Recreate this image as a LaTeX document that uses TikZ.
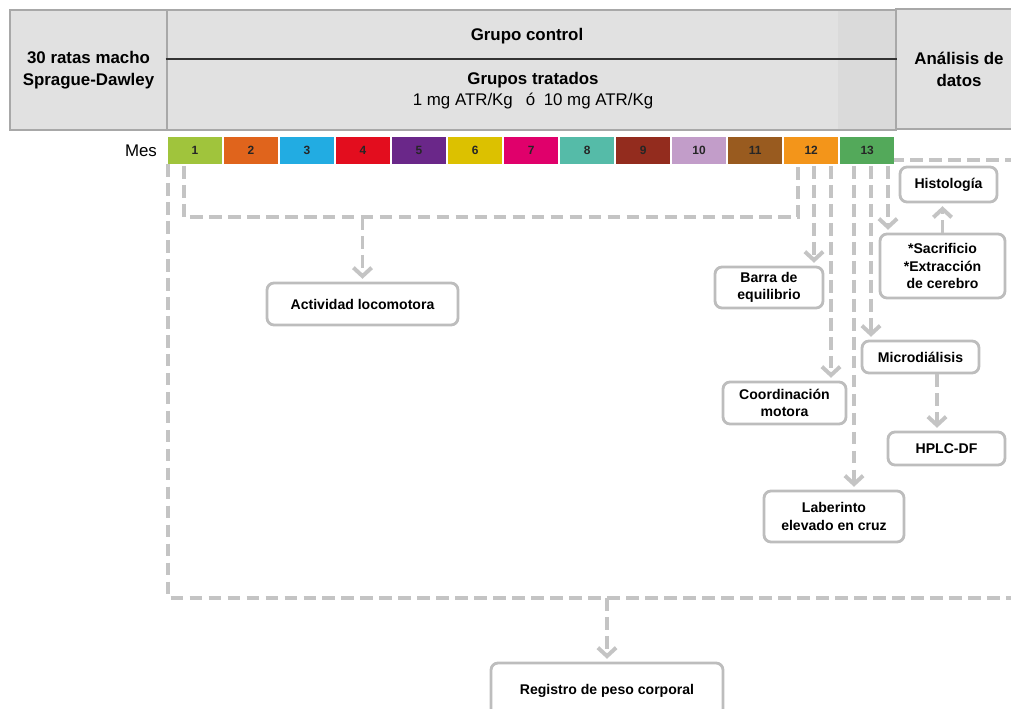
\documentclass[tikz,border=0pt]{standalone}
\usepackage{fontspec}
\setmainfont{Liberation Sans}
\usetikzlibrary{arrows.meta,positioning}

\definecolor{headgray}{HTML}{E1E1E1}
\definecolor{stripgray}{HTML}{DADADA}
\definecolor{framegray}{HTML}{A8A8A8}
\definecolor{linegray}{HTML}{C4C4C4}
\definecolor{boxgray}{HTML}{BDBDBD}
\definecolor{mes01}{HTML}{A0C43C}
\definecolor{mes02}{HTML}{E0641C}
\definecolor{mes03}{HTML}{22ACE2}
\definecolor{mes04}{HTML}{E30D1E}
\definecolor{mes05}{HTML}{6A2789}
\definecolor{mes06}{HTML}{DCC100}
\definecolor{mes07}{HTML}{E0006B}
\definecolor{mes08}{HTML}{55BBA8}
\definecolor{mes09}{HTML}{932C1E}
\definecolor{mes10}{HTML}{C29DC9}
\definecolor{mes11}{HTML}{995B1F}
\definecolor{mes12}{HTML}{F3951A}
\definecolor{mes13}{HTML}{53A95A}

\begin{document}
\begin{tikzpicture}
%Diseno experimental
	[
	 %Styles
	 x=0.025cm, y=-0.025cm,
	 node distance=0.05cm,
	 header_box/.style={rectangle,draw=framegray,line width=2pt,inner sep=0pt,align=center,
	   font=\fontsize{12}{15.5}\selectfont\bfseries},
	 header_text/.style={rectangle,inner sep=0pt,align=center,font=\fontsize{12}{15}\selectfont\bfseries},
	 mes_cell/.style={rectangle,fill=#1,minimum width=1.35cm,minimum height=0.675cm,
	   inner sep=0pt,outer sep=0pt,text=black!85,font=\fontsize{8.5}{9}\selectfont\bfseries},
	 step_box/.style 2 args={rectangle,rounded corners=5pt,draw=boxgray,line width=2pt,fill=white,
	   align=center,inner sep=1pt,minimum width=#1*0.025cm,minimum height=#2*0.025cm,
	   font=\fontsize{10}{12.5}\selectfont\bfseries},
	 dash_line/.style={draw=linegray,line width=2.8pt,dash pattern=on 9pt off 4.5pt},
	 dash_arrow/.style={dash_line,-{Straight Barb[length=6pt,width=13pt]},shorten >=2pt},
	 label_simple/.style={rectangle,inner sep=0pt}
	]
	\useasboundingbox (0,0) rectangle (1011,709);
	\clip (0,0) rectangle (1011,709);

	%Header
	\fill[headgray] (10,10) rectangle (1022,130);
	\fill[stripgray] (838,10) rectangle (896,130);
	\node (sujetos) [header_box,minimum width=157*0.025cm,minimum height=120*0.025cm] at (88.5,70)
	  {30 ratas macho\\Sprague-Dawley};
	\node (grupos) [header_box,minimum width=729*0.025cm,minimum height=120*0.025cm] at (531.5,70) {};
	\node (analisis) [header_box,minimum width=126*0.025cm,minimum height=120*0.025cm] at (959,69)
	  {Análisis de\\datos};
	\coordinate (rule_y) at (0,59);
	\draw[black!80,line width=1pt] (grupos.west |- rule_y) -- (grupos.east |- rule_y);
	\node (control) [header_text] at (527,36) {Grupo control};
	\node (tratados) [header_text] at (533,80) {Grupos tratados};
	\node (dosis) [label_simple,font=\fontsize{12}{14}\selectfont] at (533,101)
	  {1 mg ATR/Kg\enspace\ ó\enspace 10 mg ATR/Kg};

	%Months
	\node (m1) [mes_cell=mes01] at (195,150.5) {1};
	\node (m2) [mes_cell=mes02,right=of m1] {2};
	\node (m3) [mes_cell=mes03,right=of m2] {3};
	\node (m4) [mes_cell=mes04,right=of m3] {4};
	\node (m5) [mes_cell=mes05,right=of m4] {5};
	\node (m6) [mes_cell=mes06,right=of m5] {6};
	\node (m7) [mes_cell=mes07,right=of m6] {7};
	\node (m8) [mes_cell=mes08,right=of m7] {8};
	\node (m9) [mes_cell=mes09,right=of m8] {9};
	\node (m10) [mes_cell=mes10,right=of m9] {10};
	\node (m11) [mes_cell=mes11,right=of m10] {11};
	\node (m12) [mes_cell=mes12,right=of m11] {12};
	\node (m13) [mes_cell=mes13,right=of m12] {13};
	\node (mes) [label_simple,font=\fontsize{12}{14}\selectfont,left=0.27cm of m1] {Mes};

	%Tests
	\node (actividad) [step_box={191}{42}] at (362.5,304) {Actividad locomotora};
	\node (barra) [step_box={108}{41}] at (769,287.5) {Barra de\\equilibrio};
	\node (coordinacion) [step_box={123}{42}] at (784.5,403) {Coordinación\\motora};
	\node (laberinto) [step_box={140}{51}] at (834,516.5) {Laberinto\\elevado en cruz};
	\node (histologia) [step_box={97}{35}] at (948.5,184.5) {Histología};
	\node (sacrificio) [step_box={125}{64}] at (942.5,266) {*Sacrificio\\*Extracción\\de cerebro};
	\node (microdialisis) [step_box={117}{32}] at (920.5,357) {Microdiálisis};
	\node (hplc) [step_box={117}{33}] at (946.5,448.5) {HPLC-DF};
	\node (registro) [step_box={232}{56}] at (607,691) {Registro de peso corporal};

	%Edges
	\coordinate (act_l) at (184,166);
	\coordinate (act_r) at (798,166);
	\coordinate (act_y) at (0,217);
	\coordinate (loop_y) at (0,598);
	\coordinate (loop_x) at (1030,0);
	\coordinate (top_y) at (0,160);
	\coordinate (barra_x) at (814,166);
	\coordinate (coord_x) at (831,166);
	\coordinate (lab_x) at (854,166);
	\coordinate (micro_x) at (871,166);
	\coordinate (sacr_x) at (888,166);
	\coordinate (hplc_x) at (937,0);

	\draw[dash_line] (m1.south west) -- (m1.south west |- loop_y) -- (loop_x |- loop_y)
	  -- (loop_x |- top_y) -- (m13.east |- top_y);
	\draw[dash_arrow] (registro.north |- loop_y) -- (registro.north);
	\draw[dash_line] (act_l) |- (act_r |- act_y) -- (act_r);
	\draw[dash_arrow] (actividad.north |- act_y) -- (actividad.north);
	\draw[dash_arrow] (barra_x) -- (barra_x |- barra.north);
	\draw[dash_arrow] (coord_x) -- (coord_x |- coordinacion.north);
	\draw[dash_arrow] (lab_x) -- (lab_x |- laberinto.north);
	\draw[dash_arrow] (micro_x) -- (micro_x |- microdialisis.north);
	\draw[dash_arrow] (sacr_x) -- (sacr_x |- sacrificio.north);
	\draw[dash_arrow] (sacrificio.north) -- (sacrificio.north |- histologia.south);
	\draw[dash_arrow] (hplc_x |- microdialisis.south) -- (hplc_x |- hplc.north);
\end{tikzpicture}
\end{document}
